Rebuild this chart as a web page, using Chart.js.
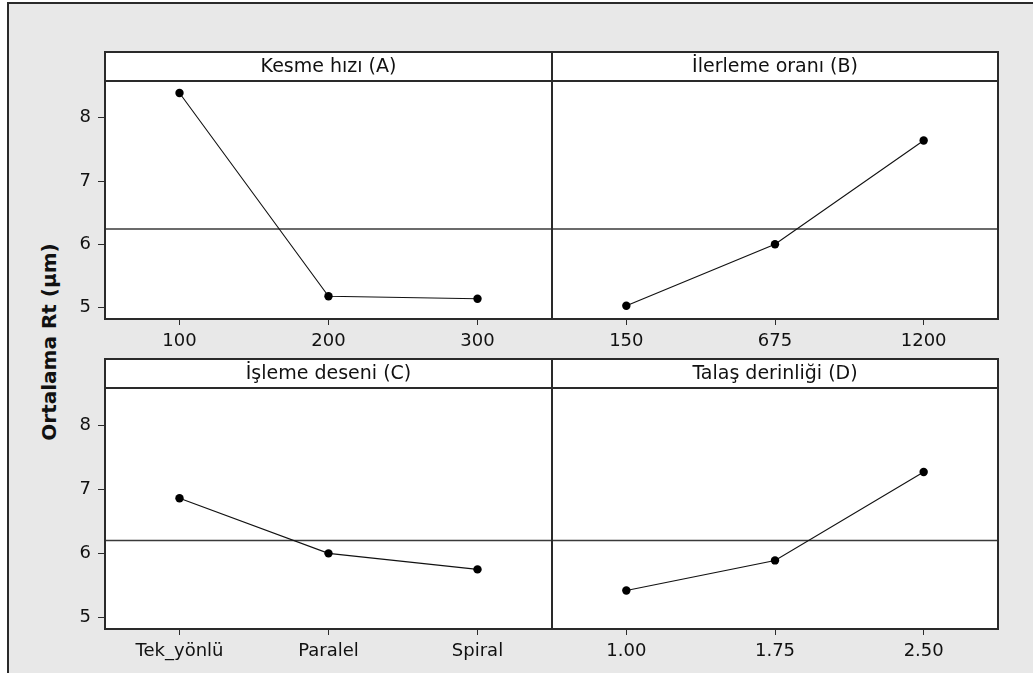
<!DOCTYPE html>
<html>
<head>
<meta charset="utf-8">
<script src="https://cdn.jsdelivr.net/npm/chart.js@4.4.0/dist/chart.umd.min.js"></script>
<style>
  html, body { margin: 0; padding: 0; background: #ffffff; width: 1033px; height: 673px; overflow: hidden; }
  #frame { position: absolute; left: 7px; top: 2px; width: 1100px; height: 700px; background: #e8e8e8;
           border-top: 2px solid #2a2a2a; border-left: 2px solid #2a2a2a; }
  canvas { position: absolute; left: 0; top: 0; }
  #ytitle { position: absolute; left: 49px; top: 342px; transform: translate(-50%, -50%) rotate(-90deg);
            font-family: "DejaVu Sans", sans-serif; font-weight: bold; font-size: 20px; color: #111; white-space: nowrap; }
</style>
</head>
<body>
<div id="frame"></div>
<div id="ytitle">Ortalama Rt (µm)</div>
<canvas id="cA" width="1033" height="673"></canvas>
<canvas id="cB" width="1033" height="673"></canvas>
<canvas id="cC" width="1033" height="673"></canvas>
<canvas id="cD" width="1033" height="673"></canvas>
<script>
// ---- data ----
const titleA = 'Kesme hızı (A)';
const levelsA = ['100', '200', '300'];
const meansA = [8.39, 5.18, 5.14];

const titleB = 'İlerleme oranı (B)';
const levelsB = ['150', '675', '1200'];
const meansB = [5.03, 6.00, 7.64];

const titleC = 'İşleme deseni (C)';
const levelsC = ['Tek_yönlü', 'Paralel', 'Spiral'];
const meansC = [6.86, 6.00, 5.75];

const titleD = 'Talaş derinliği (D)';
const levelsD = ['1.00', '1.75', '2.50'];
const meansD = [5.42, 5.89, 7.27];

const grandMeanTop = 6.24;
const grandMeanBottom = 6.20;
const yTicks = [5, 6, 7, 8];
const yAxisTitle = 'Ortalama Rt (µm)';

// ---- layout ----
const W = 1033, H = 673, HEADER = 29;
const FONT = '"DejaVu Sans", sans-serif';

const panelFrame = {
  id: 'panelFrame',
  beforeDraw(chart) {
    const a = chart.chartArea, c = chart.ctx;
    c.save();
    c.fillStyle = '#ffffff';
    c.fillRect(a.left, a.top - HEADER, a.right - a.left, a.bottom - a.top + HEADER);
    c.restore();
  },
  afterDraw(chart) {
    const a = chart.chartArea, c = chart.ctx;
    c.save();
    c.strokeStyle = '#2a2a2a';
    c.lineWidth = 2;
    c.strokeRect(a.left, a.top - HEADER, a.right - a.left, a.bottom - a.top + HEADER);
    c.beginPath();
    c.moveTo(a.left, a.top); c.lineTo(a.right, a.top);
    c.stroke();
    c.restore();
  }
};

function makePanel(id, rect, title, levels, means, grandMean, showY) {
  const [L, T, R, B] = rect;
  const yW = showY ? 60 : 0;
  const xH = 40;
  new Chart(document.getElementById(id), {
    type: 'line',
    data: {
      datasets: [
        {
          data: [{x: -0.5, y: grandMean}, {x: 2.5, y: grandMean}],
          borderColor: '#3a3a3a', borderWidth: 1.5, pointRadius: 0, order: 2
        },
        {
          data: means.map((v, i) => ({x: i, y: v})),
          borderColor: '#111111', borderWidth: 1.1,
          pointRadius: 4.2, pointBackgroundColor: '#000000', pointBorderColor: '#000000', pointBorderWidth: 0,
          order: 1
        }
      ]
    },
    options: {
      responsive: false, animation: false, devicePixelRatio: 1,
      layout: { padding: { left: L - yW, top: T - HEADER, right: W - R, bottom: H - B - xH } },
      plugins: {
        legend: { display: false }, tooltip: { enabled: false },
        title: {
          display: true, text: title, fullSize: false, position: 'top', color: '#111',
          font: { family: FONT, size: 19, weight: 'normal', lineHeight: 1.2 },
          padding: { top: 4, bottom: 2.2 }
        }
      },
      scales: {
        x: {
          type: 'linear', min: -0.5, max: 2.5,
          afterBuildTicks: s => { s.ticks = levels.map((_, i) => ({ value: i })); },
          afterFit: s => { s.height = xH; },
          ticks: { callback: (v) => levels[v], color: '#111', padding: 6, maxRotation: 0,
                   font: { family: FONT, size: 18 } },
          grid: { display: true, drawOnChartArea: false, drawTicks: true, tickLength: 6, color: '#2a2a2a', lineWidth: 1 },
          border: { display: false }
        },
        y: {
          type: 'linear', min: 4.82, max: 8.58, display: showY,
          afterBuildTicks: s => { s.ticks = yTicks.map(v => ({ value: v })); },
          afterFit: s => { s.width = yW; },
          ticks: { color: '#111', padding: 7, font: { family: FONT, size: 18 } },
          grid: { display: true, drawOnChartArea: false, drawTicks: true, tickLength: 7, color: '#2a2a2a', lineWidth: 1 },
          border: { display: false }
        }
      }
    },
    plugins: [panelFrame]
  });
}

makePanel('cA', [105, 81, 552, 319], titleA, levelsA, meansA, grandMeanTop, true);
makePanel('cB', [552, 81, 998, 319], titleB, levelsB, meansB, grandMeanTop, false);
makePanel('cC', [105, 388, 552, 629], titleC, levelsC, meansC, grandMeanBottom, true);
makePanel('cD', [552, 388, 998, 629], titleD, levelsD, meansD, grandMeanBottom, false);
document.getElementById('ytitle').textContent = yAxisTitle;
</script>
</body>
</html>
